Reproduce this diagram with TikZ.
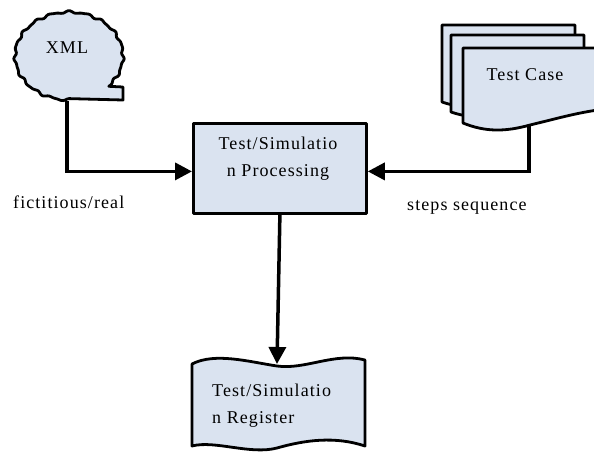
\documentclass[tikz,border=0pt]{standalone}
\usepackage{fontspec}
\setmainfont{Liberation Serif}[LetterSpace=6]
\usetikzlibrary{arrows.meta}
\definecolor{boxfill}{HTML}{DAE3F0}
\begin{document}
\begin{tikzpicture}[x=1pt,y=-1pt,
  shapebox/.style={draw=black, fill=boxfill, line width=2.8pt, line join=round},
  conn/.style={line width=3.5pt, -{Triangle[length=17pt,width=17pt]}},
  lbl/.style={font=\fontsize{18}{27}\selectfont, inner sep=0pt}]
\useasboundingbox (0,0) rectangle (594,453);
\clip (0,0) rectangle (594,453);

% XML cloud
\draw[shapebox] plot[smooth, domain=43:-270, samples=160]
  ({69+(54+0.9*sin(19*\x)+0.5*sin(31*\x))*cos(\x)}, {56+(44+0.9*sin(19*\x)+0.5*sin(31*\x))*sin(\x)})
  -- (123,100) -- (123,87) -- cycle;
\node[lbl] (xml) at (67,48) {XML};

% Test case stack
\draw[shapebox] (442,25) -- (575,25) -- (575,88)
  .. controls (555,92) and (535,97) .. (510,103)
  .. controls (490,108) and (465,110) .. (442,102) -- cycle;
\draw[shapebox] (451,35) -- (584,35) -- (584,98)
  .. controls (564,102) and (544,107) .. (519,113)
  .. controls (499,118) and (474,120) .. (451,112) -- cycle;
\draw[shapebox] (463,48) -- (598,48) -- (598,110)
  .. controls (576,113) and (555,119) .. (530,125)
  .. controls (505,132) and (485,132) .. (463,123) -- cycle;
\node[lbl] (tc) at (525,75) {Test Case};

% Processing
\node[shapebox, minimum width=173pt, minimum height=90pt, anchor=north west, inner sep=0pt] (proc) at (192,122) {};
\node[lbl, align=center] (proctext) at (278,159) {Test/Simulatio\\n Processing};

% Register
\draw[shapebox] (192,364) .. controls (215,352) and (250,362) .. (277,366)
  .. controls (305,370) and (335,352) .. (365,360) -- (365,446)
  .. controls (335,436) and (305,440) .. (277,448)
  .. controls (250,455) and (215,440) .. (192,446) -- cycle;
\node[lbl, align=left, anchor=west] (reg) at (212,406) {Test/Simulatio\\n Register};

% connectors
\coordinate (xmlout) at (67,101);
\coordinate (tcout) at (529,126);
\coordinate (regtop) at (277,364);
\draw[conn] (xmlout) |- ([yshift=-3pt]proc.west);
\draw[conn] (tcout) |- ([yshift=-3pt]proc.east);
\draw[conn] (proc.south) -- (regtop);

% labels
\node[lbl, anchor=base west] (lblA) at (13,208) {fictitious/real};
\node[lbl, anchor=base west] (lblB) at (407,210) {steps sequence};
\end{tikzpicture}
\end{document}
